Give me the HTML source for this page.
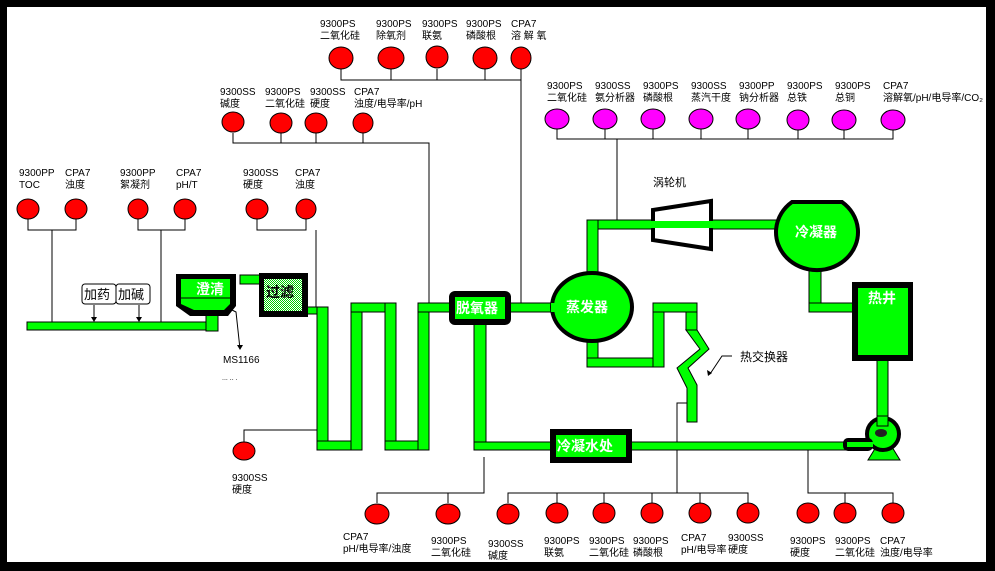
<!DOCTYPE html>
<html><head><meta charset="utf-8"><style>
html,body{margin:0;padding:0;background:#000;}
svg{display:block;}
text{font-family:"Liberation Sans","Noto Sans CJK SC",sans-serif;font-size:10px;fill:#000;}
.w{fill:#fff;font-weight:bold;font-size:14px;}
</style></head><body>
<svg width="995" height="571" viewBox="0 0 995 571" xmlns="http://www.w3.org/2000/svg">
<rect x="0" y="0" width="995" height="571" fill="#000"/>
<rect x="7" y="7" width="979" height="555" fill="#fff"/>
<g stroke="#000" stroke-width="1" fill="none">
<!-- top row bus -->
<polyline points="341,69 341,80 521,80"/><line x1="391" y1="69" x2="391" y2="80"/><line x1="437" y1="69" x2="437" y2="80"/><line x1="485" y1="69" x2="485" y2="80"/><line x1="521" y1="69" x2="521" y2="304"/>
<!-- row2 -->
<polyline points="233,133 233,143 429,143 429,304"/><line x1="281" y1="133" x2="281" y2="143"/><line x1="316" y1="133" x2="316" y2="143"/><line x1="363" y1="133" x2="363" y2="143"/>
<!-- row3 -->
<polyline points="28,219 28,230 76,230 76,219"/><line x1="52" y1="230" x2="52" y2="322"/>
<polyline points="138,219 138,230 185,230 185,219"/><line x1="161" y1="230" x2="161" y2="322"/>
<polyline points="257,219 257,230 306,230 306,219"/><line x1="316" y1="230" x2="316" y2="308"/>
<!-- purple bus -->
<polyline points="557,129 557,139 893,139 893,129"/>
<line x1="605" y1="129" x2="605" y2="139"/><line x1="653" y1="129" x2="653" y2="139"/><line x1="701" y1="129" x2="701" y2="139"/><line x1="748" y1="129" x2="748" y2="139"/><line x1="798" y1="129" x2="798" y2="139"/><line x1="844" y1="129" x2="844" y2="139"/>
<line x1="617" y1="139" x2="617" y2="220"/>
<!-- lower left -->
<polyline points="317,430 244,430 244,442"/>
<!-- bottom buses -->
<polyline points="484,457 484,493 377,493 377,503"/><line x1="448" y1="493" x2="448" y2="503"/>
<polyline points="508,503 508,493 748,493 748,503"/>
<line x1="557" y1="493" x2="557" y2="503"/><line x1="604" y1="493" x2="604" y2="503"/><line x1="652" y1="493" x2="652" y2="503"/><line x1="700" y1="493" x2="700" y2="503"/>
<polyline points="687,403 677,403 677,493"/>
<polyline points="808,450 808,493 893,493 893,503"/><line x1="845" y1="493" x2="845" y2="503"/>
<!-- MS1166 -->
<polyline points="228,308 236,312 240,349"/>
<line x1="94" y1="305" x2="94" y2="321"/><line x1="139" y1="305" x2="139" y2="321"/>
<!-- heat exchanger pointer -->
<polyline points="732,356 722,356 710,374"/>
</g>
<g fill="#000"><polygon points="237,345 243,345 240,350"/><polygon points="91,317 97,317 94,322"/><polygon points="136,317 142,317 139,322"/><polygon points="707,370 712,373 708,376"/></g>
<!-- circles -->
<g fill="#f00" stroke="#000" stroke-width="1">
<ellipse cx="341" cy="58" rx="12" ry="11"/><ellipse cx="391" cy="58" rx="13" ry="11"/><ellipse cx="437" cy="57" rx="11" ry="11"/><ellipse cx="485" cy="58" rx="12" ry="11"/><ellipse cx="521" cy="58" rx="10" ry="11"/>
<ellipse cx="233" cy="122" rx="11" ry="10"/><ellipse cx="281" cy="123" rx="11" ry="10"/><ellipse cx="316" cy="123" rx="11" ry="10"/><ellipse cx="363" cy="123" rx="10" ry="10"/>
<ellipse cx="28" cy="209" rx="11" ry="10"/><ellipse cx="76" cy="209" rx="11" ry="10"/><ellipse cx="138" cy="209" rx="10" ry="10"/><ellipse cx="185" cy="209" rx="11" ry="10"/><ellipse cx="257" cy="209" rx="11" ry="10"/><ellipse cx="306" cy="209" rx="10" ry="10"/>
<ellipse cx="244" cy="451" rx="11" ry="9"/>
<ellipse cx="377" cy="514" rx="12" ry="10"/><ellipse cx="448" cy="514" rx="12" ry="10"/><ellipse cx="508" cy="514" rx="11" ry="10"/>
<ellipse cx="557" cy="513" rx="11" ry="10"/><ellipse cx="604" cy="513" rx="11" ry="10"/><ellipse cx="652" cy="513" rx="11" ry="10"/><ellipse cx="700" cy="513" rx="11" ry="10"/><ellipse cx="748" cy="513" rx="11" ry="10"/>
<ellipse cx="808" cy="513" rx="11" ry="10"/><ellipse cx="845" cy="513" rx="11" ry="10"/><ellipse cx="893" cy="513" rx="11" ry="10"/>
</g>
<g fill="#f0f" stroke="#000" stroke-width="1">
<ellipse cx="557" cy="119" rx="12" ry="10"/><ellipse cx="605" cy="119" rx="12" ry="10"/><ellipse cx="653" cy="119" rx="12" ry="10"/><ellipse cx="701" cy="119" rx="12" ry="10"/><ellipse cx="748" cy="119" rx="12" ry="10"/><ellipse cx="798" cy="120" rx="11" ry="10"/><ellipse cx="844" cy="120" rx="12" ry="10"/><ellipse cx="893" cy="120" rx="12" ry="10"/>
</g>
<!-- pipes -->
<g fill="#0f0" stroke="#000" stroke-width="1">
<rect x="27" y="322" width="188" height="8"/>
<rect x="206" y="314" width="12" height="17"/>
<rect x="240" y="275" width="21" height="9"/>
<rect x="305" y="307" width="12" height="7"/>
<rect x="317" y="307" width="11" height="143"/>
<rect x="317" y="441" width="45" height="9"/>
<rect x="351" y="303" width="11" height="147"/>
<rect x="351" y="303" width="45" height="9"/>
<rect x="385" y="303" width="11" height="147"/>
<rect x="385" y="441" width="44" height="9"/>
<rect x="418" y="303" width="11" height="147"/>
<rect x="418" y="303" width="33" height="9"/>
<rect x="508" y="303" width="48" height="9"/>
<rect x="474" y="322" width="12" height="128"/>
<rect x="474" y="442" width="372" height="8"/>
<rect x="587" y="220" width="190" height="9"/>
<rect x="587" y="220" width="11" height="64"/>
<rect x="587" y="330" width="11" height="37"/>
<rect x="587" y="358" width="77" height="9"/>
<rect x="653" y="303" width="11" height="64"/>
<rect x="653" y="303" width="44" height="9"/>
<rect x="686" y="312" width="11" height="18"/>
<polygon points="686,330 697,330 709,349 688,368 697,385 697,422 687,422 687,388 677,368 700,349"/>
<rect x="809" y="258" width="12" height="54"/>
<rect x="809" y="303" width="44" height="9"/>
<rect x="877" y="357" width="11" height="75"/>
</g>
<!-- tanks -->
<path d="M176,274 L236,274 L236,306 L228,316 L190,316 L176,306 Z" fill="#000"/>
<path d="M181,279 L230,279 L230,304 L224,310 L194,310 L181,304 Z" fill="#0f0"/>
<line x1="181" y1="298" x2="230" y2="298" stroke="#000"/>
<text x="196" y="294" class="w">澄清</text>
<defs><pattern id="dots" width="2" height="2" patternUnits="userSpaceOnUse"><rect width="2" height="2" fill="#fff"/><rect width="1" height="1" fill="#0c0"/><rect x="1" y="1" width="1" height="1" fill="#0c0"/></pattern></defs>
<rect x="259" y="273" width="49" height="44" fill="#000"/>
<rect x="264" y="279" width="38" height="32" fill="url(#dots)"/>
<text x="266" y="297" style="font-size:14px;font-weight:bold;">过滤</text>
<rect x="449" y="291" width="62" height="34" rx="6" fill="#000"/>
<rect x="455" y="297" width="50" height="22" fill="#0f0"/>
<text x="456" y="313" class="w">脱氧器</text>
<ellipse cx="592" cy="307" rx="40" ry="34" fill="#0f0" stroke="#000" stroke-width="4"/>
<rect x="551" y="303" width="12" height="9" fill="#0f0"/>
<rect x="588" y="283" width="9" height="4" fill="#0f0"/>
<rect x="588" y="327" width="9" height="4" fill="#0f0"/>
<text x="566" y="312" class="w">蒸发器</text>
<polygon points="653,210 711,201 711,249 653,240" fill="#fff" stroke="#000" stroke-width="4"/>
<rect x="651" y="221" width="63" height="7" fill="#0f0"/>
<path d="M792,202 L842,202 A41,38 0 1 1 792,202 Z" fill="#0f0" stroke="#000" stroke-width="4"/>
<rect x="810" y="257" width="10" height="6" fill="#0f0"/>
<text x="795" y="237" class="w">冷凝器</text>
<rect x="852" y="282" width="61" height="79" fill="#000"/>
<rect x="858" y="288" width="50" height="67" fill="#0f0"/>
<text x="868" y="303" class="w">热井</text>
<rect x="550" y="429" width="82" height="34" fill="#000"/>
<rect x="556" y="435" width="70" height="22" fill="#0f0"/>
<text x="557" y="451" class="w">冷凝水处</text>
<!-- pump -->
<polygon points="876,447 892,447 900,460 868,460" fill="#0f0" stroke="#000"/>
<circle cx="883" cy="434" r="16" fill="#0f0" stroke="#000" stroke-width="4"/>
<rect x="843" y="438" width="30" height="13" rx="5" fill="#000"/>
<rect x="847" y="442" width="26" height="5" fill="#0f0"/>
<rect x="877" y="416" width="11" height="10" fill="#0f0" stroke="#000"/>
<ellipse cx="881" cy="433" rx="6" ry="4" fill="#222"/>
<!-- boxes -->
<rect x="82" y="284" width="34" height="20" rx="3" fill="#fff" stroke="#000"/>
<rect x="116" y="284" width="34" height="20" rx="3" fill="#fff" stroke="#000"/>
<text x="84" y="299" style="font-size:13px">加药</text>
<text x="118" y="299" style="font-size:13px">加碱</text>
<!-- labels -->
<text x="320" y="27">9300PS</text><text x="320" y="39">二氧化硅</text>
<text x="376" y="27">9300PS</text><text x="376" y="39">除氧剂</text>
<text x="422" y="27">9300PS</text><text x="422" y="39">联氨</text>
<text x="466" y="27">9300PS</text><text x="466" y="39">磷酸根</text>
<text x="511" y="27">CPA7</text><text x="511" y="39">溶 解 氧</text>
<text x="220" y="95">9300SS</text><text x="220" y="107">碱度</text>
<text x="265" y="95">9300PS</text><text x="265" y="107">二氧化硅</text>
<text x="310" y="95">9300SS</text><text x="310" y="107">硬度</text>
<text x="354" y="95">CPA7</text><text x="354" y="107">浊度/电导率/pH</text>
<text x="19" y="176">9300PP</text><text x="19" y="188">TOC</text>
<text x="65" y="176">CPA7</text><text x="65" y="188">浊度</text>
<text x="120" y="176">9300PP</text><text x="120" y="188">絮凝剂</text>
<text x="176" y="176">CPA7</text><text x="176" y="188">pH/T</text>
<text x="243" y="176">9300SS</text><text x="243" y="188">硬度</text>
<text x="295" y="176">CPA7</text><text x="295" y="188">浊度</text>
<text x="547" y="89">9300PS</text><text x="547" y="101">二氧化硅</text>
<text x="595" y="89">9300SS</text><text x="595" y="101">氨分析器</text>
<text x="643" y="89">9300PS</text><text x="643" y="101">磷酸根</text>
<text x="691" y="89">9300SS</text><text x="691" y="101">蒸汽干度</text>
<text x="739" y="89">9300PP</text><text x="739" y="101">钠分析器</text>
<text x="787" y="89">9300PS</text><text x="787" y="101">总铁</text>
<text x="835" y="89">9300PS</text><text x="835" y="101">总铜</text>
<text x="883" y="89">CPA7</text><text x="883" y="101">溶解氧/pH/电导率/CO₂</text>
<text x="653" y="186" style="font-size:11px">涡轮机</text>
<text x="740" y="361" style="font-size:12px">热交换器</text>
<text x="223" y="363">MS1166</text>
<text x="222" y="380" style="font-size:7px">... .. .</text>
<text x="232" y="481">9300SS</text><text x="232" y="493">硬度</text>
<text x="343" y="540">CPA7</text><text x="343" y="552">pH/电导率/浊度</text>
<text x="431" y="544">9300PS</text><text x="431" y="556">二氧化硅</text>
<text x="488" y="547">9300SS</text><text x="488" y="559">碱度</text>
<text x="544" y="544">9300PS</text><text x="544" y="556">联氨</text>
<text x="589" y="544">9300PS</text><text x="589" y="556">二氧化硅</text>
<text x="633" y="544">9300PS</text><text x="633" y="556">磷酸根</text>
<text x="681" y="541">CPA7</text><text x="681" y="553">pH/电导率</text>
<text x="728" y="541">9300SS</text><text x="728" y="553">硬度</text>
<text x="790" y="544">9300PS</text><text x="790" y="556">硬度</text>
<text x="835" y="544">9300PS</text><text x="835" y="556">二氧化硅</text>
<text x="880" y="544">CPA7</text><text x="880" y="556">浊度/电导率</text>
</svg>
</body></html>
